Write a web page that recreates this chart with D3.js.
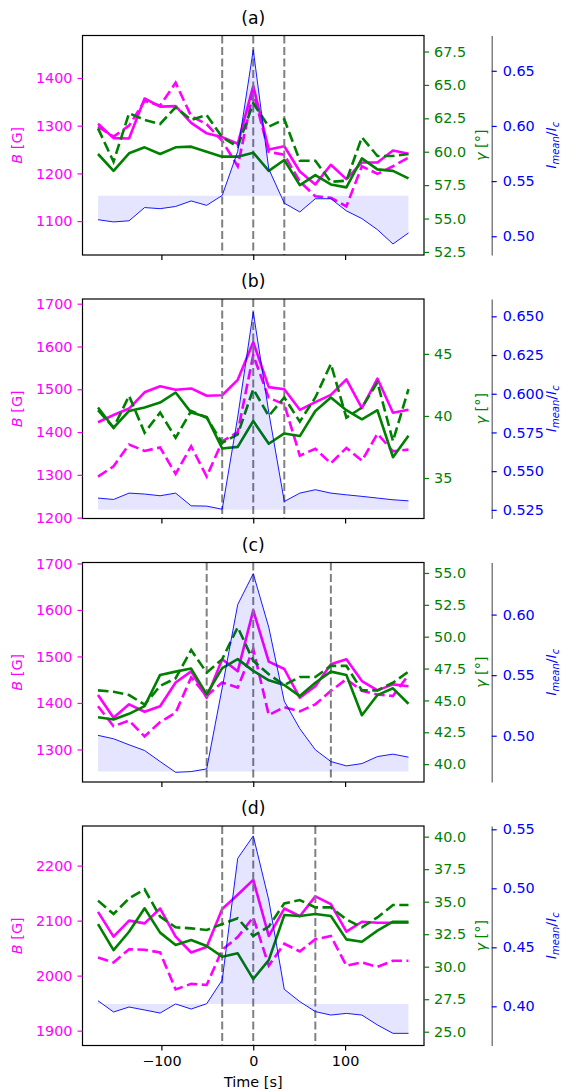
<!DOCTYPE html>
<html>
<head>
<meta charset="utf-8">
<script src="https://cdn.jsdelivr.net/npm/d3@7"></script>
<style>
  body { margin: 0; background: #fff; }
  svg { font-family: "DejaVu Sans", sans-serif; }
</style>
</head>
<body>
<div id="chart"></div>
<script>
// time axis (s), one sample every ~16.9 s
const times = [-169, -152.1, -135.2, -118.3, -101.4, -84.5, -67.6, -50.7, -33.8, -16.9, 0,
               16.9, 33.8, 50.7, 67.6, 84.5, 101.4, 118.3, 135.2, 152.1, 169];
const timeTicks = [-100, 0, 100];
const panelNames = ["(a)", "(b)", "(c)", "(d)"];

// field strength B [G], solid and dashed, one row per panel
const bSolid = [
    [1304, 1274, 1273, 1357, 1340, 1341, 1306, 1284, 1276, 1262, 1383, 1250, 1257, 1204, 1177, 1218, 1188, 1223, 1223, 1248, 1241],
    [1423, 1440, 1455, 1493, 1507, 1499, 1502, 1485, 1486, 1522, 1610, 1505, 1500, 1452, 1470, 1487, 1523, 1456, 1525, 1445, 1452],
    [1417, 1368, 1397, 1381, 1393, 1444, 1468, 1411, 1494, 1468, 1599, 1489, 1473, 1411, 1436, 1483, 1494, 1447, 1427, 1440, 1436],
    [2116, 2071, 2100, 2095, 2122, 2071, 2042, 2052, 2121, 2147, 2174, 2072, 2122, 2108, 2144, 2130, 2080, 2098, 2096, 2096, 2096]
];
const bDash = [
    [1298, 1277, 1300, 1352, 1342, 1390, 1320, 1303, 1268, 1215, 1370, 1245, 1239, 1183, 1152, 1149, 1131, 1215, 1199, 1215, 1233],
    [1296, 1320, 1371, 1356, 1364, 1302, 1367, 1296, 1378, 1400, 1580, 1480, 1465, 1345, 1361, 1327, 1363, 1333, 1396, 1355, 1359],
    [1393, 1350, 1362, 1328, 1359, 1379, 1455, 1415, 1444, 1433, 1516, 1374, 1391, 1382, 1397, 1426, 1451, 1426, 1418, 1415, 1460],
    [2033, 2024, 2048, 2047, 2042, 1975, 1985, 1983, 2047, 2070, 2106, 2018, 2058, 2044, 2066, 2072, 2018, 2024, 2016, 2027, 2027]
];

// inclination gamma [deg], solid and dashed
const gSolid = [
    [59.83, 58.57, 59.88, 60.33, 59.83, 60.33, 60.38, 60.0, 59.63, 59.63, 59.93, 58.57, 59.38, 57.5, 58.25, 57.55, 57.33, 59.5, 58.68, 58.57, 58.0],
    [40.68, 39.05, 40.4, 40.68, 41.08, 41.89, 40.27, 39.92, 37.38, 37.51, 39.59, 37.76, 38.59, 38.38, 40.4, 41.49, 40.46, 39.73, 40.46, 36.68, 38.41],
    [43.68, 43.5, 43.95, 44.55, 47.0, 47.26, 47.5, 45.47, 47.53, 48.24, 47.32, 46.58, 46.21, 45.34, 46.39, 47.26, 47.0, 43.84, 45.42, 45.95, 44.74],
    [33.28, 31.28, 32.69, 34.49, 32.62, 31.67, 32.05, 31.59, 30.77, 31.03, 29.05, 30.51, 33.97, 33.9, 34.05, 33.9, 32.1, 31.92, 32.77, 33.46, 33.46]
];
const gDash = [
    [61.75, 59.25, 62.88, 62.38, 62.08, 63.33, 62.38, 62.75, 61.08, 60.38, 63.63, 61.88, 62.43, 59.33, 59.33, 57.75, 57.83, 61.08, 59.68, 59.68, 59.83],
    [40.46, 39.05, 41.62, 38.65, 40.27, 38.24, 40.4, 39.86, 37.84, 38.51, 42.16, 40.0, 41.49, 39.54, 41.49, 44.19, 39.86, 40.68, 42.7, 37.97, 42.16],
    [45.79, 45.68, 45.42, 44.68, 46.13, 46.74, 48.95, 47.18, 48.24, 50.74, 48.11, 47.05, 46.21, 46.84, 46.84, 47.71, 47.71, 45.79, 45.79, 46.39, 47.26],
    [35.08, 34.05, 35.26, 35.95, 33.85, 33.03, 32.95, 32.82, 33.28, 33.72, 32.36, 33.08, 34.87, 35.13, 34.56, 34.56, 33.64, 33.03, 33.79, 34.74, 34.74]
];

// mean intensity I_mean/I_c and the level the shading is drawn from
const iMean = [
    [0.515, 0.513, 0.514, 0.526, 0.525, 0.527, 0.532, 0.528, 0.537, 0.577, 0.669, 0.561, 0.530, 0.522, 0.534, 0.534, 0.523, 0.516, 0.506, 0.493, 0.503],
    [0.5326, 0.5317, 0.5358, 0.5352, 0.5341, 0.5358, 0.5276, 0.5274, 0.5254, 0.585, 0.6528, 0.588, 0.5304, 0.5358, 0.538, 0.5358, 0.5347, 0.5337, 0.5326, 0.5315, 0.5308],
    [0.5003, 0.4975, 0.4925, 0.4878, 0.4787, 0.4698, 0.4704, 0.4726, 0.5396, 0.6083, 0.6338, 0.5895, 0.5285, 0.5058, 0.4884, 0.4787, 0.4751, 0.477, 0.4828, 0.4848, 0.4823],
    [0.4047, 0.3952, 0.3994, 0.3969, 0.3943, 0.402, 0.3977, 0.4022, 0.4223, 0.5254, 0.5444, 0.4901, 0.4144, 0.404, 0.3955, 0.3926, 0.394, 0.3926, 0.3842, 0.3771, 0.3771]
];
const iBase = [0.5367, 0.525, 0.4704, 0.402];

// marked times (vertical dashed lines)
const vLines = [[-33.8, 0, 33.8], [-33.8, 0, 33.8], [-50.7, 0, 84.5], [-33.8, 0, 67.6]];

// axis limits and ticks per panel
const bLim = [[1029, 1489], [1198, 1711], [1230, 1702], [1873, 2272]];
const gLim = [[52.27, 68.7], [31.74, 49.42], [38.6, 55.82], [23.94, 40.82]];
const iLim = [[0.483, 0.682], [0.5194, 0.6612], [0.4618, 0.643], [0.3668, 0.5528]];
const bTicks = [[1100, 1200, 1300, 1400], [1200, 1300, 1400, 1500, 1600, 1700],
                [1300, 1400, 1500, 1600, 1700], [1900, 2000, 2100, 2200]];
const gTicks = [[52.5, 55, 57.5, 60, 62.5, 65, 67.5], [35, 40, 45],
                [40, 42.5, 45, 47.5, 50, 52.5, 55], [25, 27.5, 30, 32.5, 35, 37.5, 40]];
const iTicks = [[0.5, 0.55, 0.6, 0.65], [0.525, 0.55, 0.575, 0.6, 0.625, 0.65],
                [0.5, 0.55, 0.6], [0.4, 0.45, 0.5, 0.55]];
const gFormat = [".1f", "d", ".1f", ".1f"];
const iFormat = [".2f", ".3f", ".2f", ".2f"];

const width = 567, height = 1091;
const left = 82.5, right = 424, blueAxisX = 491.7;
const panelTop = 35.5, panelStep = 263.5, panelH = 219.5;
const fs = 14.4;

const svg = d3.select("#chart")
    .append("svg")
    .attr("width", width)
    .attr("height", height);

const x = d3.scaleLinear().domain([-185.9, 185.9]).range([left, right]);

panelNames.forEach((name, k) => drawPanel(k));

// x label under the last panel
svg.append("text")
    .attr("x", (left + right) / 2)
    .attr("y", 1087)
    .attr("text-anchor", "middle")
    .attr("font-size", fs)
    .text("Time [s]");

function styleAxis(g, color, spine) {
    g.selectAll("text").attr("fill", color).attr("font-size", fs).attr("font-family", "DejaVu Sans");
    g.selectAll(".tick line").attr("stroke", color).attr("stroke-width", 1.2);
    if (spine) g.select(".domain").attr("stroke", spine).attr("stroke-width", 1.2);
    else g.select(".domain").remove();
}

function drawPanel(k) {
    const top = panelTop + panelStep * k;
    const bottom = top + panelH;
    const g = svg.append("g");

    const yB = d3.scaleLinear().domain(bLim[k]).range([bottom, top]);
    const yG = d3.scaleLinear().domain(gLim[k]).range([bottom, top]);
    const yI = d3.scaleLinear().domain(iLim[k]).range([bottom, top]);

    const lineB = d3.line().x((d, i) => x(times[i])).y(d => yB(d));
    const lineG = d3.line().x((d, i) => x(times[i])).y(d => yG(d));
    const lineI = d3.line().x((d, i) => x(times[i])).y(d => yI(d));
    const areaI = d3.area().x((d, i) => x(times[i])).y0(yI(iBase[k])).y1(d => yI(d));

    // magnetic field
    g.append("path").datum(bSolid[k]).attr("d", lineB)
        .attr("fill", "none").attr("stroke", "#ff00ff").attr("stroke-width", 2.6)
        .attr("stroke-linejoin", "round");
    g.append("path").datum(bDash[k]).attr("d", lineB)
        .attr("fill", "none").attr("stroke", "#ff00ff").attr("stroke-width", 2.6)
        .attr("stroke-dasharray", "10.5,4.5");

    // marked times
    g.selectAll(".vline")
        .data(vLines[k])
        .enter()
        .append("line")
        .attr("x1", d => x(d)).attr("x2", d => x(d))
        .attr("y1", top).attr("y2", bottom)
        .attr("stroke", "#808080").attr("stroke-width", 2)
        .attr("stroke-dasharray", "8,3.5");

    // inclination
    g.append("path").datum(gSolid[k]).attr("d", lineG)
        .attr("fill", "none").attr("stroke", "#008000").attr("stroke-width", 2.6)
        .attr("stroke-linejoin", "round");
    g.append("path").datum(gDash[k]).attr("d", lineG)
        .attr("fill", "none").attr("stroke", "#008000").attr("stroke-width", 2.6)
        .attr("stroke-dasharray", "10.5,4.5");

    // intensity with shading
    g.append("path").datum(iMean[k]).attr("d", areaI)
        .attr("fill", "#0000ff").attr("fill-opacity", 0.1);
    g.append("path").datum(iMean[k]).attr("d", lineI)
        .attr("fill", "none").attr("stroke", "#0000ff").attr("stroke-width", 0.9);

    // frame
    g.append("rect")
        .attr("x", left).attr("y", top)
        .attr("width", right - left).attr("height", panelH)
        .attr("fill", "none").attr("stroke", "black").attr("stroke-width", 1.2);

    // axes
    const axB = g.append("g").attr("transform", `translate(${left},0)`)
        .call(d3.axisLeft(yB).tickValues(bTicks[k]).tickFormat(d3.format("d"))
            .tickSize(5).tickPadding(5).tickSizeOuter(0));
    styleAxis(axB, "#ff00ff", null);

    const axG = g.append("g").attr("transform", `translate(${right},0)`)
        .call(d3.axisRight(yG).tickValues(gTicks[k]).tickFormat(d3.format(gFormat[k]))
            .tickSize(5).tickPadding(5).tickSizeOuter(0));
    styleAxis(axG, "#008000", null);

    const axI = g.append("g").attr("transform", `translate(${blueAxisX},0)`)
        .call(d3.axisRight(yI).tickValues(iTicks[k]).tickFormat(d3.format(iFormat[k]))
            .tickSize(5).tickPadding(6).tickSizeOuter(0));
    styleAxis(axI, "#0000ff", "#606060");

    const axX = g.append("g").attr("transform", `translate(0,${bottom})`)
        .call(d3.axisBottom(x).tickValues(timeTicks).tickSize(5).tickPadding(5).tickSizeOuter(0));
    styleAxis(axX, "black", null);
    if (k < 3) axX.selectAll("text").remove();

    // title
    g.append("text")
        .attr("x", (left + right) / 2)
        .attr("y", top - 12)
        .attr("text-anchor", "middle")
        .attr("font-size", 17.3)
        .text(panelNames[k]);

    const mid = (top + bottom) / 2;

    // B [G]
    const tB = g.append("text")
        .attr("transform", `translate(22,${mid}) rotate(-90)`)
        .attr("text-anchor", "middle")
        .attr("font-size", fs)
        .attr("fill", "#ff00ff");
    tB.append("tspan").attr("font-style", "italic").text("B");
    tB.append("tspan").text(" [G]");

    // gamma [deg]
    const tG = g.append("text")
        .attr("transform", `translate(486,${mid}) rotate(-90)`)
        .attr("text-anchor", "middle")
        .attr("font-size", fs)
        .attr("fill", "#008000");
    tG.append("tspan").attr("font-style", "italic").text("γ");
    tG.append("tspan").text(" [°]");

    // I_mean / I_c
    const tI = g.append("text")
        .attr("transform", `translate(556,${mid}) rotate(-90)`)
        .attr("text-anchor", "middle")
        .attr("font-size", fs)
        .attr("fill", "#0000ff");
    tI.append("tspan").attr("font-style", "italic").text("I");
    tI.append("tspan").attr("font-style", "italic").attr("font-size", 10).attr("dy", 3).text("mean");
    tI.append("tspan").attr("dy", -3).text("/");
    tI.append("tspan").attr("font-style", "italic").text("I");
    tI.append("tspan").attr("font-style", "italic").attr("font-size", 10).attr("dy", 3).text("c");
}
</script>
</body>
</html>
